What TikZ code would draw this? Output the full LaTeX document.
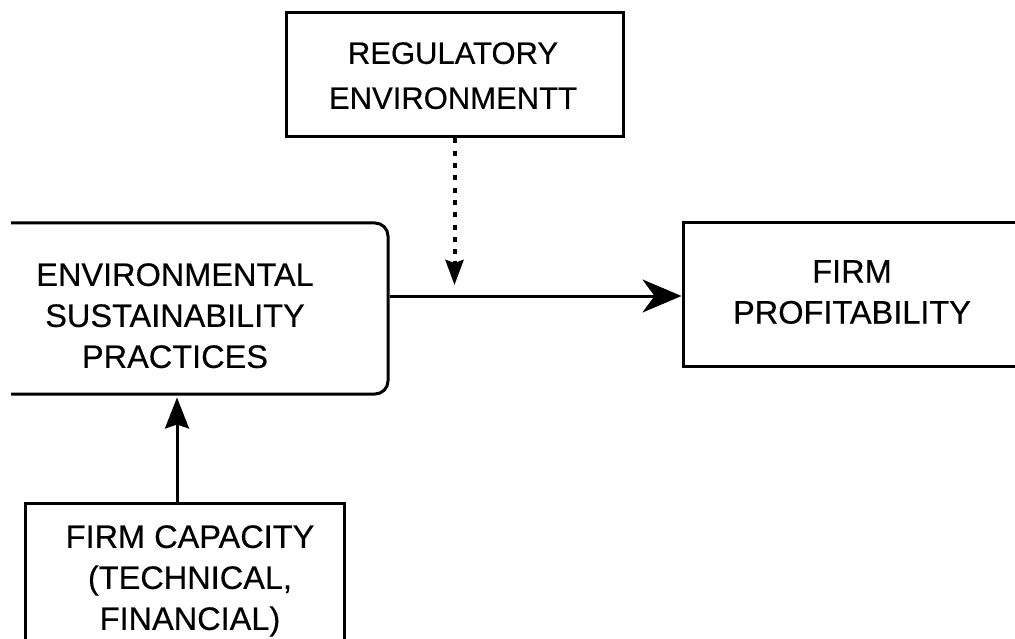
\documentclass[tikz,border=0pt]{standalone}
\usepackage{fontspec}
\setmainfont[FakeBold=0.4]{Liberation Sans}
\usetikzlibrary{arrows.meta}
\begin{document}
\begin{tikzpicture}[x=1pt,y=-1pt,
  box/.style={draw=black, line width=3pt, rectangle, inner sep=0pt},
  lbl/.style={anchor=north, inner sep=0pt, align=center, text=black},
  bigfont/.style={font=\fontsize{32.5}{41}\selectfont},
  regfont/.style={font=\fontsize{31}{45}\selectfont},
  mainarrow/.style={line width=3pt, -{Stealth[length=39pt,width=33pt,inset=12pt]}},
  uparrow/.style={line width=3pt, -{Stealth[length=31pt,width=24pt,inset=4pt]}},
  dotarrow/.style={line width=4pt, dash pattern=on 5pt off 7.3pt, -{Stealth[length=25pt,width=18pt,inset=3pt]}}
]
\useasboundingbox[fill=white] (0,0) rectangle (1015,639);

% boxes
\node[box, minimum width=337pt, minimum height=124pt] (reg) at (454.5,75) {};
\begin{scope}
  \clip (11,-20) rectangle (1040,700);
  \node[box, rounded corners=13pt, minimum width=428pt, minimum height=171pt] (esp) at (174,308.5) {};
\end{scope}
\node[box, minimum width=357pt, minimum height=143pt] (prof) at (861.5,294.5) {};
\node[box, minimum width=319pt, minimum height=177pt] (cap) at (184.5,591.5) {};

% labels
\node[lbl, regfont] (regt) at (453,42) {REGULATORY\\ENVIRONMENTT};
\node[lbl, bigfont] (espt) at (175,263) {ENVIRONMENTAL\\SUSTAINABILITY\\PRACTICES};
\node[lbl, bigfont] (proft) at (852,260) {FIRM\\PROFITABILITY};
\node[lbl, bigfont] (capt) at (190,525) {FIRM CAPACITY\\(TECHNICAL,\\FINANCIAL)};

% connectors
\coordinate (mid) at (454.5,296);
\coordinate (vx) at (177,450);
\draw[mainarrow] (esp.east |- mid) -- (prof.west |- mid);
\draw[dotarrow, shorten >=11pt] (reg.south) -- (mid);
\draw[uparrow, shorten >=2pt] (vx |- cap.north) -- (vx |- esp.south);
\end{tikzpicture}
\end{document}
